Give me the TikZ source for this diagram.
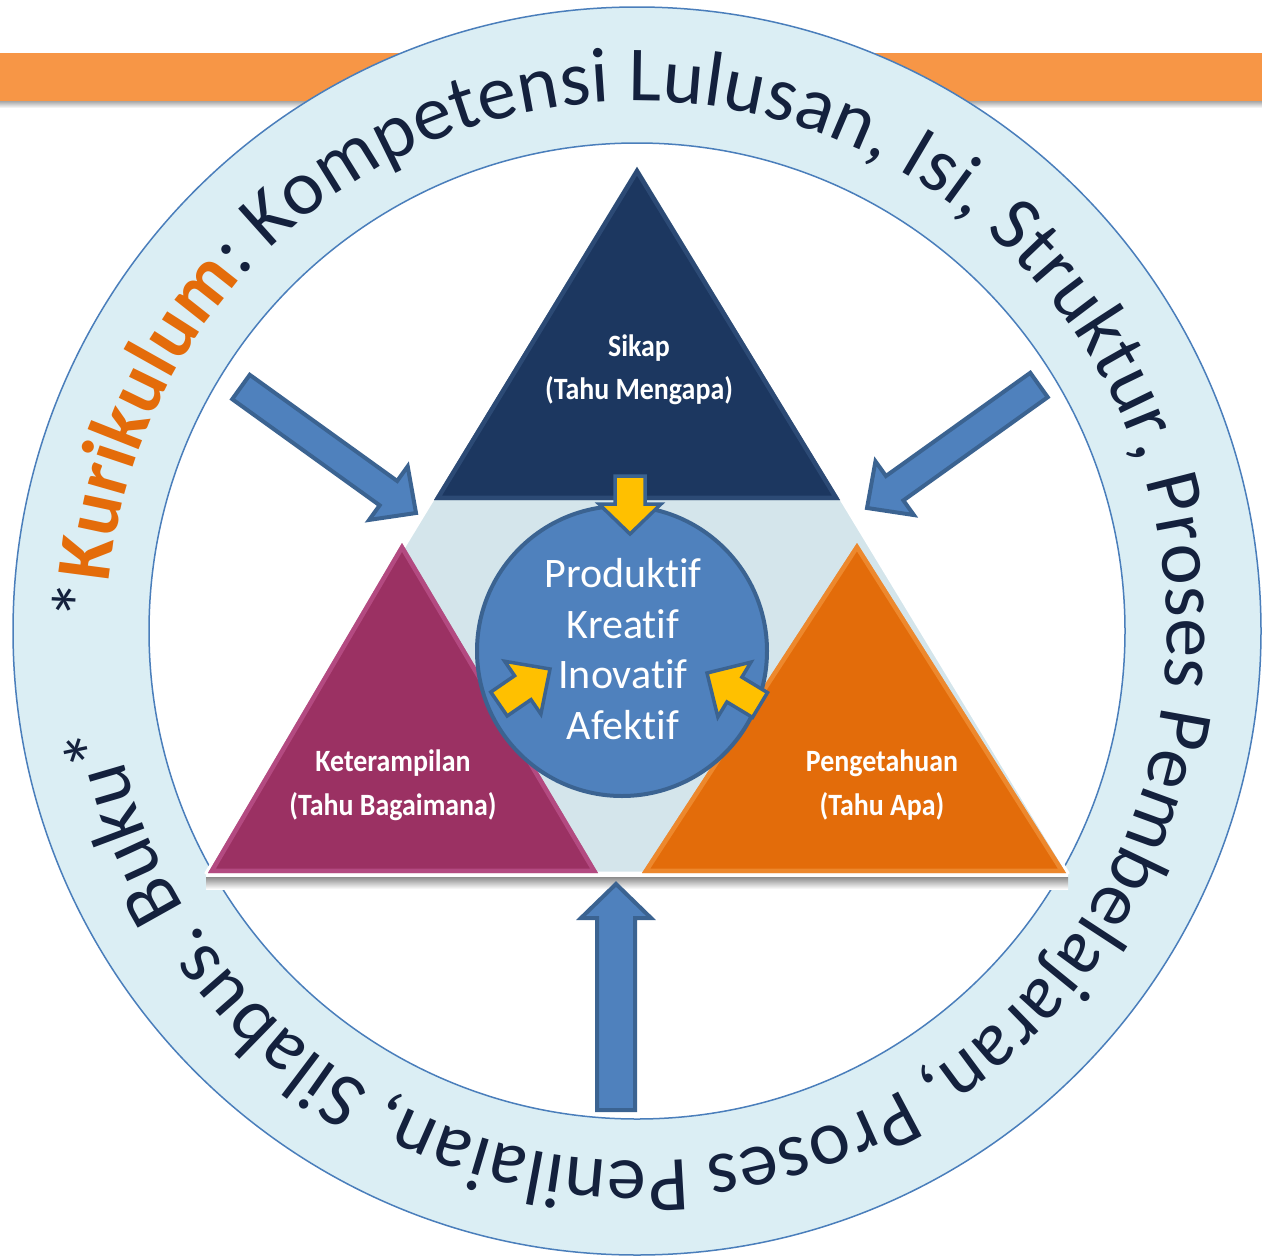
\documentclass[tikz,border=0pt]{standalone}
\usepackage{fontspec}
\usepackage{graphicx}
\setmainfont{Carlito}[Ligatures={NoCommon}]
\usetikzlibrary{calc,decorations.text}

\definecolor{barorange}{HTML}{F79646}
\definecolor{ringfill}{HTML}{DBEEF4}
\definecolor{ringline}{HTML}{4A7EBB}
\definecolor{ringtext}{HTML}{14213D}
\definecolor{kurorange}{HTML}{E46C0A}
\definecolor{bgtri}{HTML}{D4E5EB}
\definecolor{navytri}{HTML}{1C3760}
\definecolor{navylite}{HTML}{3A5A88}
\definecolor{magtri}{HTML}{9B3163}
\definecolor{maglite}{HTML}{C8609A}
\definecolor{orgtri}{HTML}{E36C0A}
\definecolor{orglite}{HTML}{F6A04A}
\definecolor{cblue}{HTML}{4F81BD}
\definecolor{cblueline}{HTML}{3B6391}
\definecolor{yel}{HTML}{FFC000}

% block arrow from coordinate #1 (tail) to #2 (tip); #3 shaft width, #4 head width, #5 head length, #6 style
\newcommand\blockarrow[6]{%
  \path[#6] let \p1=(#1), \p2=(#2),
      \n1={atan2(\y2-\y1,\x2-\x1)}, \n2={veclen(\x2-\x1,\y2-\y1)} in
    [shift={(\p1)}, rotate=\n1]
    (0,{#3/2}) -- ({\n2-#5},{#3/2}) -- ({\n2-#5},{#4/2}) -- (\n2,0)
    -- ({\n2-#5},{-#4/2}) -- ({\n2-#5},{-#3/2}) -- (0,{-#3/2}) -- cycle;
}
\newcommand\ringfont{\fontsize{78}{90}\selectfont}
\newcommand\narrowtxt[1]{\scalebox{0.9}[1]{#1}}

\tikzset{
  bigarrow/.style={fill=cblue, draw=cblueline, line width=4, line join=miter},
  yelarrow/.style={fill=yel, draw=cblueline, line width=3.5, line join=miter},
  tlabel/.style={font=\bfseries\fontsize{31}{36}\selectfont, text=white, anchor=base, inner sep=0pt},
  ctext/.style={font=\fontsize{42}{50}\selectfont, text=white, anchor=base, inner sep=0pt},
}

\begin{document}
\begin{tikzpicture}[x=1pt, y=-1pt]
\useasboundingbox (0,0) rectangle (1262,1258);
\fill[white] (0,0) rectangle (1262,1258);

% orange bar
\fill[barorange] (0,53) rectangle (1262,101);
\shade[top color=black!35, bottom color=white] (0,101) rectangle (1262,108);

% ring
\coordinate (C) at (637,631);
\fill[ringfill] (C) circle[radius=624];
\draw[ringline, line width=1.5] (C) circle[radius=624];
\fill[white] (C) circle[radius=488];
\draw[ringline, line width=1.5] (C) circle[radius=488];

% ring text
{\ringfont
\path[decorate, decoration={text along path, text align={fit to path},
  text={|\ringfont\color{ringtext}|*|\ringfont\color{kurorange}\bfseries|Kurikulum|\ringfont\color{ringtext}\mdseries|: Kompetensi Lulusan, Isi, Struktur, Proses Pembelajaran, Proses Penilaian, Silabus. Buku*}}]
  (C) ++(181:530) arc[start angle=181, end angle=530, radius=530];
}

% background triangle
\coordinate (tA) at (637,163);
\coordinate (tB) at (206,873);
\coordinate (tC) at (1068,873);
\fill[white] (206,873) rectangle (1068,877);
\shade[top color=black!45, bottom color=white] (206,877) rectangle (1068,889);
\filldraw[fill=bgtri, draw=white, line width=3, line join=round] (tA) -- (tB) -- (tC) -- cycle;

% navy triangle
\coordinate (n1) at (637,167);
\coordinate (n2) at (434,500);
\coordinate (n3) at (840,500);
\fill[navytri] (n1) -- (n2) -- (n3) -- cycle;
\begin{scope}
  \clip (n1) -- (n2) -- (n3) -- cycle;
  \draw[navylite, opacity=.55, line width=9] (n1) -- (n2) -- (n3) -- cycle;
\end{scope}

% magenta triangle
\coordinate (m1) at (402,543);
\coordinate (m2) at (208,873);
\coordinate (m3) at (598,873);
\fill[magtri] (m1) -- (m2) -- (m3) -- cycle;
\begin{scope}
  \clip (m1) -- (m2) -- (m3) -- cycle;
  \draw[maglite, opacity=.55, line width=9] (m1) -- (m2) -- (m3) -- cycle;
\end{scope}

% orange triangle
\coordinate (o1) at (857,543);
\coordinate (o2) at (642,873);
\coordinate (o3) at (1066,873);
\fill[orgtri] (o1) -- (o2) -- (o3) -- cycle;
\begin{scope}
  \clip (o1) -- (o2) -- (o3) -- cycle;
  \draw[orglite, opacity=.55, line width=9] (o1) -- (o2) -- (o3) -- cycle;
\end{scope}

% big blue arrows
\coordinate (laT) at (241,387);
\coordinate (laH) at (416,513);
\coordinate (raT) at (1039,385);
\coordinate (raH) at (867,508);
\coordinate (baT) at (616,1110);
\coordinate (baH) at (616,884);
\blockarrow{laT}{laH}{30}{66}{34}{bigarrow}
\blockarrow{raT}{raH}{30}{66}{34}{bigarrow}
\blockarrow{baT}{baH}{38}{70}{34}{bigarrow}

% central circle
\node[circle, fill=cblue, draw=cblueline, line width=4, minimum size=290, inner sep=0pt] (core) at (622,651) {};

% yellow arrows
\coordinate (yaT) at (630,476);
\coordinate (yaH) at (630,534);
\coordinate (ylT) at (499,704);
\coordinate (ylH) at (550,669);
\coordinate (yrT) at (760,705);
\coordinate (yrH) at (707,673);
\blockarrow{yaT}{yaH}{30}{62}{30}{yelarrow}
\blockarrow{ylT}{ylH}{29}{64}{33}{yelarrow}
\blockarrow{yrT}{yrH}{29}{64}{32}{yelarrow}

% circle text
\node[ctext] (w1) at (623,587) {Produktif};
\node[ctext] (w2) at (623,638) {Kreatif};
\node[ctext] (w3) at (623,688) {Inovatif};
\node[ctext] (w4) at (623,739) {Afektif};

% triangle labels
\node[tlabel] (s1) at (639,356) {\narrowtxt{Sikap}};
\node[tlabel] (s2) at (639,399) {\narrowtxt{(Tahu Mengapa)}};
\node[tlabel] (k1) at (393,771) {\narrowtxt{Keterampilan}};
\node[tlabel] (k2) at (393,815) {\narrowtxt{(Tahu Bagaimana)}};
\node[tlabel] (p1) at (882,771) {\narrowtxt{Pengetahuan}};
\node[tlabel] (p2) at (882,815) {\narrowtxt{(Tahu Apa)}};
\end{tikzpicture}
\end{document}
